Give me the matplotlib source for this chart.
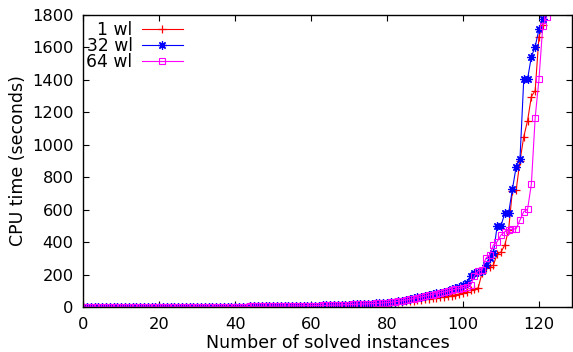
import numpy as np
import matplotlib
matplotlib.use("Agg")
import matplotlib.pyplot as plt

# solved instances index -> cpu time (seconds)
red_low = [0.1,0.1,0.1,0.2,0.2,0.2,0.2,0.3,0.3,0.3,0.3,0.4,0.4,0.4,0.5,0.5,0.5,0.6,0.6,0.7,
           0.7,0.8,0.8,0.9,0.9,1.0,1.0,1.1,1.2,1.2,1.3,1.4,1.5,1.6,1.7,1.8,1.9,2.0,2.1,2.3,
           2.4,2.6,2.8,3.0,3.2,3.4,3.6,3.9,4.1,4.4,4.7,5.0,5.3,5.7,6.1,6.5,7.0,7.4,7.9,8.4]

wl1 = red_low + [7,7.5,8,8.5,9,9.5,10,11,11.5,12,13,14,15,16,17,18,19,20,21,23,
                 25,27,29,31,33,35,37,40,42,45,47,50,53,56,59,62,66,70,75,80,86,95,
                 105,110,118,210,240,249,258,327,339,382,475,717,721,900,1050,1149,1297,1334,1667,1739,1900]

wl32 = red_low + [8,8.5,9,9.5,10,11,11.5,12,13,14,15,16,17,18,19,20,21,22,23,25,
                  27,30,33,36,40,44,49,54,59,64,69,74,79,84,89,94,100,108,116,125,135,150,
                  190,208,218,224,259,300,331,501,501,578,578,725,865,912,1406,1406,1543,1605,1712,1775,1900]

wl64 = red_low + [8,8.5,9,9.5,10,11,11.5,12,13,14,15,16,17,18,19,20,21,22,23,25,
                  27,29,32,35,39,43,47,52,57,62,67,72,77,82,87,92,98,104,110,114,119,125,
                  136,191,224,228,300,321,382,403,444,464,475,479,483,536,588,602,758,1167,1404,1732,1786]

labels = ["1 wl", "32 wl", "64 wl"]
colors = ["#ff0000", "#0000ff", "#ff00ff"]

plt.rcParams['font.family'] = ['DejaVu Sans']
plt.rcParams['font.size'] = 11.5

fig = plt.figure(figsize=(5.73, 3.52), dpi=100)
ax = fig.add_axes([83.3/573, 1-307/352, (572-83.3)/573, (307-15)/352])

ax.plot(np.arange(len(wl1)), wl1, color=colors[0], lw=0.8, marker='+', ms=6, mew=0.9, label=labels[0])
ax.plot(np.arange(len(wl32)), wl32, color=colors[1], lw=0.8, marker=(8, 2, 0), ms=6, mew=0.9, label=labels[1])
ax.plot(np.arange(len(wl64)), wl64, color=colors[2], lw=0.8, marker='s', ms=4.5, mew=0.8,
        mfc='none', label=labels[2])

ax.set_xlim(0, 128.7)
ax.set_ylim(0, 1800)
ax.set_xticks(np.arange(0, 121, 20))
ax.set_yticks(np.arange(0, 1801, 200))
ax.tick_params(direction='in', length=4, width=0.8, top=True, right=True, pad=7, labelsize=11.7)
for s in ax.spines.values():
    s.set_linewidth(1)

ax.set_xlabel("Number of solved instances", labelpad=2, fontsize=12.5)
ax.set_ylabel("CPU time (seconds)", labelpad=4, fontsize=12.5)

ax.legend(loc='upper right', bbox_to_anchor=(0.204, 0.98), frameon=False, markerfirst=False,
          handlelength=2.4, handletextpad=0.55, labelspacing=-0.1, borderpad=0, borderaxespad=0,
          fontsize=12.3)

fig.savefig("out.png", dpi=100)
